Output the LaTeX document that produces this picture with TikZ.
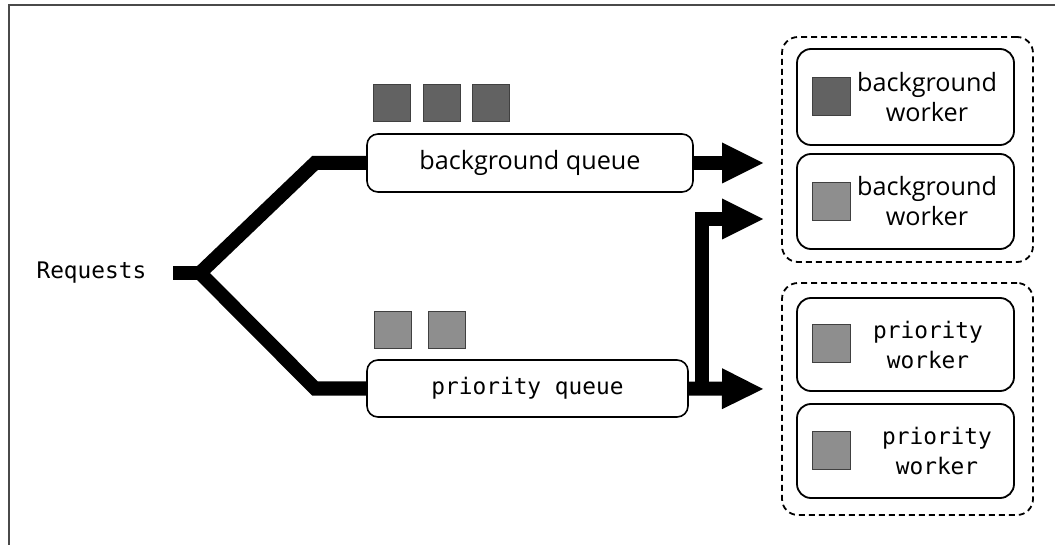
\documentclass[tikz,border=0pt]{standalone}
\usepackage{fontspec}
\usetikzlibrary{arrows.meta,positioning,calc}
\newfontfamily\monofont{DejaVu Sans Mono}
\newfontfamily\bgfont{Open Sans}
\definecolor{sqdark}{HTML}{626262}
\definecolor{sqlight}{HTML}{8E8E8E}
\definecolor{sqedge}{HTML}{404040}
\definecolor{frame}{HTML}{4A4A4A}
\begin{document}
\begin{tikzpicture}[x=1pt,y=-1pt,
  conn/.style={line width=14pt,line join=miter,miter limit=10},
  tip/.style={-{Triangle[length=41pt,width=41pt,line width=0pt]}},
  queue/.style={draw,line width=1.6pt,rounded corners=11pt,fill=white,inner sep=0pt},
  worker/.style={draw,line width=1.8pt,rounded corners=14pt,inner sep=0pt},
  group/.style={draw,line width=1.8pt,dash pattern=on 6pt off 4pt,rounded corners=16pt,inner sep=0pt},
  sq/.style={draw=sqedge,line width=1pt,minimum size=37pt,inner sep=0pt},
  wsq/.style={draw=sqedge,line width=1pt,minimum width=38pt,minimum height=38pt,inner sep=0pt},
  monotxt/.style={font=\monofont\fontsize{22.8}{30}\selectfont},
  bgtxt/.style={font=\bgfont\fontsize{25.2}{30}\selectfont},
]
\useasboundingbox (0,0) rectangle (1058,545);
% frame (top and left only)
\draw[frame,line width=2pt] (8.5,545) -- (8.5,5.5) -- (1055,5.5);

% queues
\node[queue,minimum width=326pt,minimum height=58pt] (bgq) at (530,163) {};
\node[bgtxt] (bgqt) at (bgq.center) {background queue};
\node[queue,minimum width=321pt,minimum height=57pt] (prq) at (527.5,388.5) {};
\node[monotxt] (prqt) at (prq.center) {priority queue};

% queued items
\node[sq,fill=sqdark] (b1) at (392,103.5) {};
\node[sq,fill=sqdark] (b2) at (441.5,103.5) {};
\node[sq,fill=sqdark] (b3) at (491,103.5) {};
\node[sq,fill=sqlight] (p1) at (393,330) {};
\node[sq,fill=sqlight] (p2) at (447,330) {};

% requests
\node[monotxt,anchor=west] (req) at (33,273) {Requests};
\coordinate (stub) at (173,273);
\coordinate (split) at (200,273);
\coordinate (bgc) at (315,163);
\coordinate (prc) at (315,388.5);
\draw[conn] (stub) -- (split);
\draw[conn] (bgq.west) -- (bgc) -- (split) -- (prc) -- (prq.west);

% groups
\node[group,minimum width=251pt,minimum height=225pt] (g1) at (907.5,149.5) {};
\node[group,minimum width=251pt,minimum height=232pt] (g2) at (907.5,399) {};

% workers
\node[worker,minimum width=217pt,minimum height=96pt] (bw1) at (905.5,97) {};
\node[worker,minimum width=217pt,minimum height=95pt] (bw2) at (905.5,201.5) {};
\node[worker,minimum width=217pt,minimum height=93pt] (pw1) at (905.5,344.5) {};
\node[worker,minimum width=217pt,minimum height=94pt] (pw2) at (905.5,451) {};
\node[wsq,fill=sqdark] (bs1) at (831.5,97) {};
\node[wsq,fill=sqlight] (bs2) at (831.5,202) {};
\node[wsq,fill=sqlight] (ps1) at (831.5,344) {};
\node[wsq,fill=sqlight] (ps2) at (831.5,450) {};
\node[bgtxt,align=center] (bwt1) at (927,97) {background\\worker};
\node[bgtxt,align=center] (bwt2) at (927,201) {background\\worker};
\node[monotxt,align=center] (pwt1) at (928,345) {priority\\worker};
\node[monotxt,align=center] (pwt2) at (937,451) {priority\\worker};

% arrows
\coordinate (t1) at (763,163);
\coordinate (t2) at (763,219);
\coordinate (t3) at (763,389);
\coordinate (vb) at (701.5,389);
\draw[conn,tip] (bgq.east) -- (t1);
\draw[conn,tip] (prq.east) -- (t3);
\draw[conn,tip] (vb) -- (vb |- t2) -- (t2);
\end{tikzpicture}
\end{document}
